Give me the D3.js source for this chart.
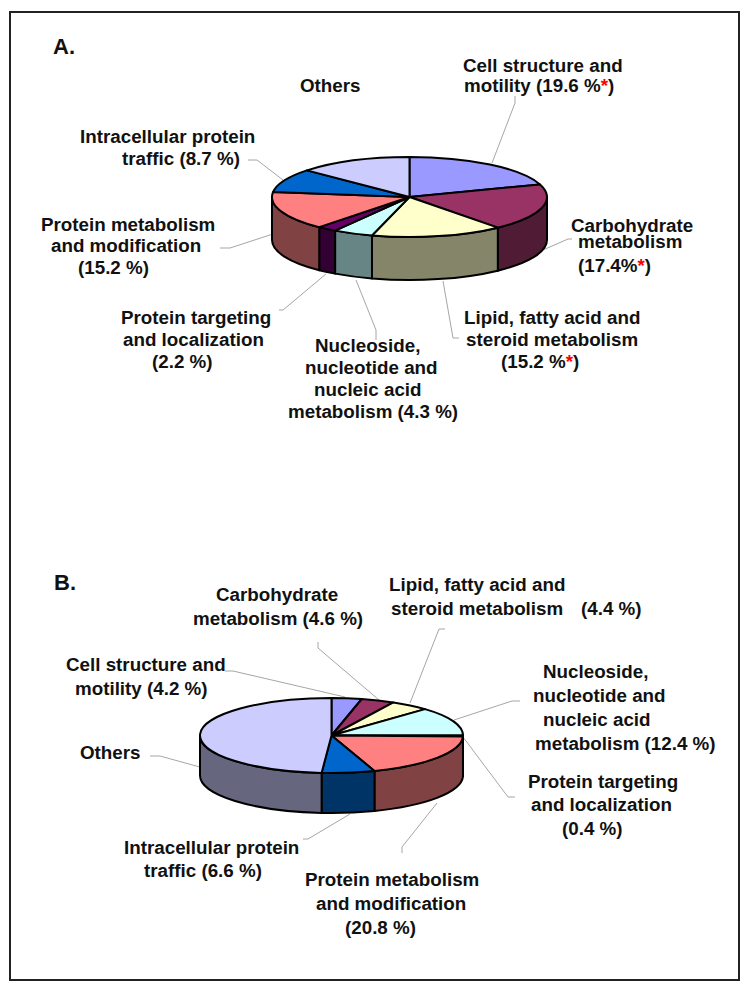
<!DOCTYPE html>
<html lang="en">

<head>
    <meta charset="utf-8" />
    <title>Pie charts A and B</title>
    <script src="https://d3js.org/d3.v7.min.js"></script>
    <style>
        body {
            margin: 0;
            background: #fff;
        }

        text {
            font-family: 'Liberation Sans', Arial, sans-serif;
            font-weight: bold;
            font-size: 18.8px;
            fill: #111;
        }

        .leader {
            fill: none;
            stroke: #a6a6a6;
            stroke-width: 1;
        }
    </style>
</head>

<body>
    <div id="chart"></div>

    <script>
        var categories = ["Cell structure and motility", "Carbohydrate metabolism", "Lipid, fatty acid and steroid metabolism",
            "Nucleoside, nucleotide and nucleic acid metabolism", "Protein targeting and localization",
            "Protein metabolism and modification", "Intracellular protein traffic", "Others"];

        // slice sizes as they are drawn in the picture (the printed % differ a little from the drawn slices)
        var sharesA = [19.9, 19.0, 15.5, 4.7, 2.3, 15.6, 9.6, 13.4];
        var sharesB = [3.7, 4.1, 4.8, 12.4, 0.4, 19.3, 6.5, 48.8];

        var topColors = ["#9999ff", "#993366", "#ffffcc", "#ccffff", "#660066", "#ff8080", "#0066cc", "#ccccff"];
        var sideColors = ["#4d4d80", "#4f1b35", "#85856a", "#688585", "#330033", "#804242", "#003366", "#66667f"];

        // label lines: text, x, baseline. * is drawn red
        var labelsA = [
            ["Cell structure and", 463, 72], ["motility (19.6 %*)", 464, 92],
            ["Carbohydrate", 571, 232], ["metabolism", 578, 248], ["(17.4%*)", 578, 272],
            ["Lipid, fatty acid and", 464, 324], ["steroid metabolism", 466, 346], ["(15.2 %*)", 501, 368],
            ["Nucleoside,", 315, 352], ["nucleotide and", 305, 374], ["nucleic acid", 314, 396], ["metabolism (4.3 %)", 288, 418],
            ["Protein targeting", 121, 324], ["and localization", 123, 346], ["(2.2 %)", 152, 368],
            ["Protein metabolism", 41, 231], ["and modification", 51, 252], ["(15.2 %)", 78, 274],
            ["Intracellular protein", 80, 143], ["traffic (8.7 %)", 122, 165],
            ["Others", 300, 92]
        ];
        var labelsB = [
            ["Carbohydrate", 216, 601], ["metabolism (4.6 %)", 193, 625],
            ["Cell structure and", 66, 671], ["motility (4.2 %)", 75, 695],
            ["Others", 80, 759],
            ["Lipid, fatty acid and", 389, 591], ["steroid metabolism", 391, 615], ["(4.4 %)", 581, 615],
            ["Nucleoside,", 543, 678], ["nucleotide and", 533, 702], ["nucleic acid", 543, 726], ["metabolism (12.4 %)", 535, 750],
            ["Protein targeting", 528, 788], ["and localization", 531, 811], ["(0.4 %)", 562, 835],
            ["Intracellular protein", 124, 854], ["traffic (6.6 %)", 144, 877],
            ["Protein metabolism", 305, 886], ["and modification", 316, 910], ["(20.8 %)", 345, 934]
        ];

        var leadersA = [
            [[492, 163], [515, 103], [515, 96]],
            [[543, 250], [568, 239], [572, 239]],
            [[443, 281], [453, 338], [459, 338]],
            [[356, 280], [376, 330], [376, 340]],
            [[326, 274], [283, 310], [279, 310]],
            [[273, 234], [230, 248], [220, 248]],
            [[283, 180], [257, 160], [248, 160]]
        ];
        var leadersB = [
            [[379, 700], [318, 648], [318, 642]],
            [[345, 697], [233, 671], [225, 671]],
            [[410, 703], [439, 629], [445, 629]],
            [[454, 720], [512, 701], [520, 701]],
            [[463, 737], [508, 797], [515, 797]],
            [[207, 769], [160, 756], [150, 756]],
            [[350, 814], [308, 839], [303, 839]],
            [[437, 803], [402, 847], [402, 853]]
        ];

        var svg = d3.select("#chart").append("svg")
            .attr("width", 750)
            .attr("height", 988)
            .style("display", "block");

        svg.append("rect")
            .attr("x", 10).attr("y", 12)
            .attr("width", 729).attr("height", 968)
            .attr("fill", "none")
            .attr("stroke", "#222")
            .attr("stroke-width", 2);

        var pie = d3.pie().sort(null).value(function(d) { return d; });

        function drawPie(shares, cx, cy, rx, ry, depth) {
            var slices = pie(shares);
            var g = svg.append("g").attr("transform", "translate(" + cx + "," + cy + ")");

            function px(a) { return rx * Math.sin(a); }
            function py(a) { return -ry * Math.cos(a); }

            // side wall: only the part of each slice on the near half is visible
            g.selectAll("path.side")
                .data(slices.filter(function(d) { return d.endAngle > Math.PI / 2 && d.startAngle < Math.PI * 1.5; }))
                .enter().append("path")
                .attr("class", "side")
                .attr("fill", function(d) { return sideColors[d.index]; })
                .attr("stroke", "#000")
                .attr("stroke-width", 2)
                .attr("stroke-linejoin", "round")
                .attr("d", function(d) {
                    var a0 = Math.max(d.startAngle, Math.PI / 2);
                    var a1 = Math.min(d.endAngle, Math.PI * 1.5);
                    return "M" + px(a0) + "," + py(a0)
                        + "A" + rx + "," + ry + " 0 0 1 " + px(a1) + "," + py(a1)
                        + "L" + px(a1) + "," + (py(a1) + depth)
                        + "A" + rx + "," + ry + " 0 0 0 " + px(a0) + "," + (py(a0) + depth)
                        + "Z";
                });

            var arc = d3.arc().innerRadius(0).outerRadius(rx);
            g.append("g")
                .attr("transform", "scale(1," + (ry / rx) + ")")
                .selectAll("path.top")
                .data(slices)
                .enter().append("path")
                .attr("class", "top")
                .attr("d", arc)
                .attr("fill", function(d) { return topColors[d.index]; })
                .attr("stroke", "#000")
                .attr("stroke-width", 2)
                .attr("stroke-linejoin", "round")
                .attr("vector-effect", "non-scaling-stroke");
        }

        function drawLeaders(leaders) {
            var line = d3.line();
            svg.selectAll(null)
                .data(leaders)
                .enter().append("path")
                .attr("class", "leader")
                .attr("d", line);
        }

        function drawLabels(labels) {
            labels.forEach(function(l) {
                var t = svg.append("text").attr("x", l[1]).attr("y", l[2]);
                l[0].split(/(\*)/).forEach(function(part) {
                    if (part === "") return;
                    var s = t.append("tspan").text(part);
                    if (part === "*") s.style("fill", "#ff0000");
                });
            });
        }

        drawLeaders(leadersA);
        drawLeaders(leadersB);
        drawPie(sharesA, 409.5, 197, 137.5, 40, 43);
        drawPie(sharesB, 331.5, 735.5, 131.5, 37.5, 40);
        drawLabels(labelsA);
        drawLabels(labelsB);

        svg.append("text").attr("x", 53).attr("y", 54).style("font-size", "22px").text("A.");
        svg.append("text").attr("x", 54).attr("y", 590).style("font-size", "22px").text("B.");
    </script>
</body>

</html>
